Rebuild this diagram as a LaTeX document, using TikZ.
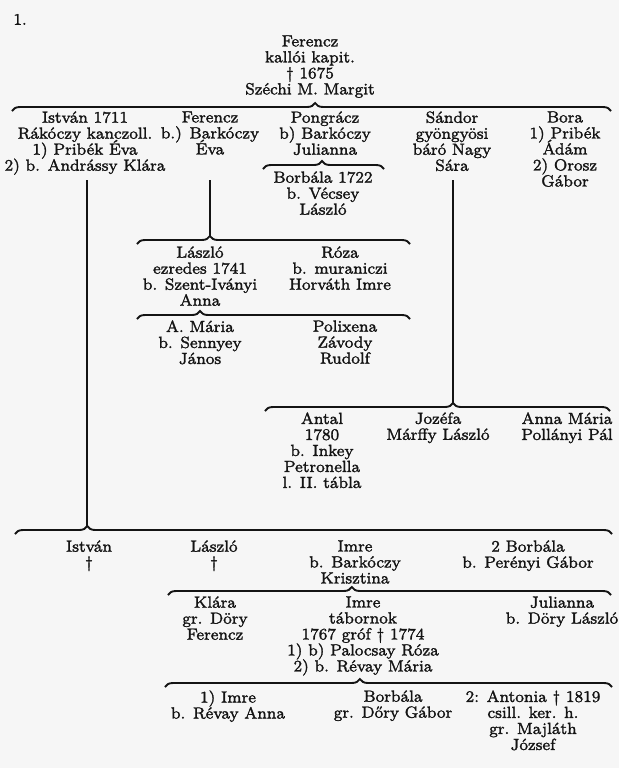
\documentclass[tikz,border=0pt]{standalone}
\usetikzlibrary{decorations.pathreplacing}
\definecolor{paper}{gray}{0.965}
\definecolor{ink}{gray}{0.08}
\font\genfont="[lmroman8-regular.otf]:embolden=1.6" at 8.1pt
\newcommand{\topstrut}{\lineskiplimit-20pt\relax\vrule height6.2pt width0pt depth0pt\relax}
\tikzset{
  pers/.style={anchor=north,align=center,inner sep=0pt,text=ink,
               font=\fontsize{8.1}{8}\selectfont\genfont,
               execute at begin node=\topstrut},
  brc/.style={draw=ink,line width=0.95pt,decorate,
              decoration={brace,amplitude=4pt,aspect=#1}},
  vline/.style={draw=ink,line width=0.8pt},
}
\begin{document}
\begin{tikzpicture}[x=0.5pt,y=-0.5pt]
\fill[paper] (0,0) rectangle (619,768);
\useasboundingbox (0,0) rectangle (619,768);

% ------------------------------------------------ generation 1
\node[pers,anchor=north west] (tabla) at (13,12) {1.};
\node[pers] (ferenczA) at (310,35) {Ferencz\\kallói kapit.\\† 1675\\Széchi M. Margit};
\draw[brc=0.506] (12,111) -- (611,111);

% ------------------------------------------------ generation 2
\node[pers] (istvanB)   at (85,111)  {István 1711\\Rákóczy kanczoll.\\1) Pribék Éva\\2) b. Andrássy Klára};
\node[pers] (ferenczB)  at (210,111) {Ferencz\\b.) Barkóczy\\Éva};
\node[pers] (pongracz)  at (325,111) {Pongrácz\\b) Barkóczy\\Julianna};
\node[pers] (sandor)    at (452,111) {Sándor\\gyöngyösi\\báró Nagy\\Sára};
\node[pers] (bora)      at (565,111) {Bora\\1) Pribék\\Ádám\\2) Orosz\\Gábor};

\draw[brc=0.488] (263,169) -- (384,169);
\node[pers] (borbalaB)  at (323,171) {Borbála 1722\\b. Vécsey\\László};

% ------------------------------------------------ line of Ferencz
\draw[brc=0.267] (137,244) -- (410,244);
\node[pers] (laszloB)   at (200,246) {László\\ezredes 1741\\b. Szent-Iványi\\Anna};
\node[pers] (roza)      at (340,246) {Róza\\b. muraniczi\\Horváth Imre};
\draw[brc=0.231] (137,319) -- (410,319);
\node[pers] (amaria)    at (200,320) {A. Mária\\b. Sennyey\\János};
\node[pers] (polixena)  at (345,320) {Polixena\\Závody\\Rudolf};

% ------------------------------------------------ line of Sándor
\draw[brc=0.545] (265,411) -- (610,411);
\node[pers] (antal)     at (322,412) {Antal\\1780\\b. Inkey\\Petronella\\l. II. tábla};
\node[pers] (jozefa)    at (438,412) {Jozéfa\\Márffy László};
\node[pers] (annamaria) at (567,412) {Anna Mária\\Pollányi Pál};

% ------------------------------------------------ line of István
\draw[brc=0.121] (15,534) -- (612,534);
\node[pers] (istvanC)   at (89,540)  {István\\†};
\node[pers] (laszloC)   at (214,540) {László\\†};
\node[pers] (imreC)     at (355,540) {Imre\\b. Barkóczy\\Krisztina};
\node[pers] (borbalaC)  at (528,540) {2 Borbála\\b. Perényi Gábor};

\draw[brc=0.415] (168,595) -- (611,595);
\node[pers] (klara)     at (215,596) {Klára\\gr. Döry\\Ferencz};
\node[pers] (imreD)     at (363,596) {Imre\\tábornok\\1767 gróf † 1774\\1) b) Palocsay Róza\\2) b. Révay Mária};
\node[pers] (julianna)  at (562,596) {Julianna\\b. Döry László};

\draw[brc=0.436] (165,687) -- (612,687);
\node[pers] (imreE)     at (228,690) {1) Imre\\b. Révay Anna};
\node[pers] (borbalaE)  at (393,690) {Borbála\\gr. Dőry Gábor};
\node[pers] (antonia)   at (533,690) {2: Antonia † 1819\\csill. ker. h.\\gr. Majláth\\József};

% ------------------------------------------------ descent lines
\coordinate (rowB) at (0,180);
\coordinate (tipI) at (87,526);
\coordinate (tipF) at (210,236);
\coordinate (tipS) at (453,403);
\draw[vline] (tipI |- rowB) -- (tipI);
\draw[vline] (tipF |- rowB) -- (tipF);
\draw[vline] (tipS |- rowB) -- (tipS);

\end{tikzpicture}
\end{document}
